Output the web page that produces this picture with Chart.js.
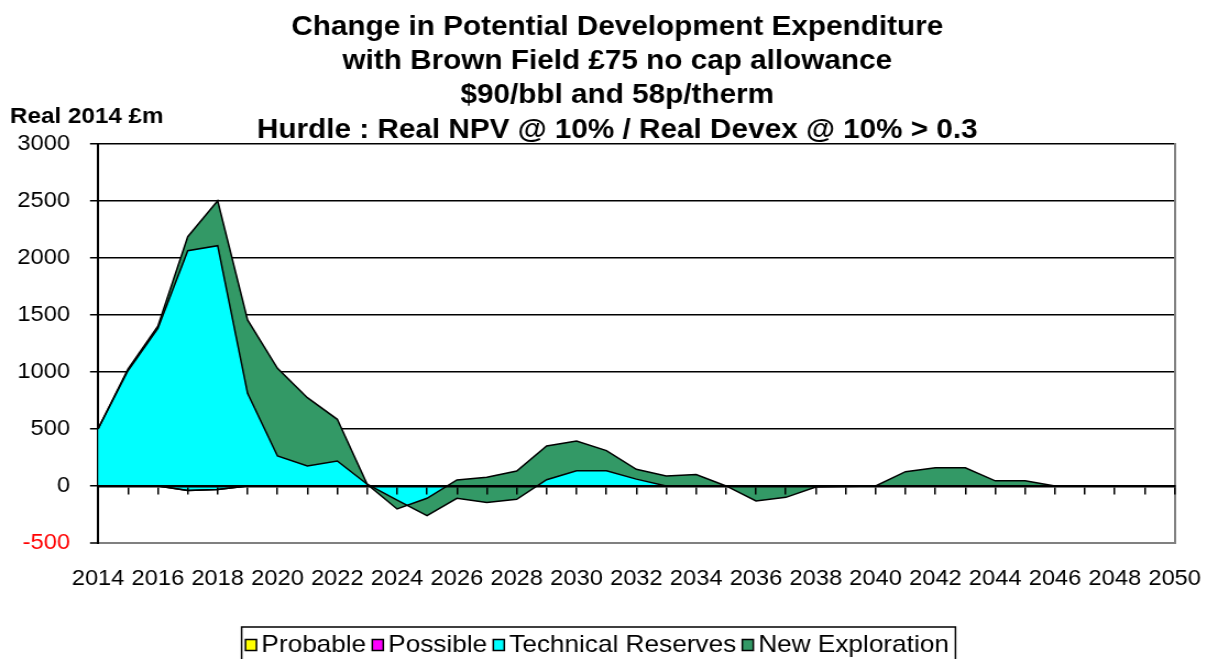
<!DOCTYPE html>
<html><head><meta charset="utf-8">
<script src="https://cdn.jsdelivr.net/npm/chart.js@4.4.0/dist/chart.umd.min.js"></script>
<style>
html,body{margin:0;padding:0;background:#fff;overflow:hidden;}
#c{display:block;width:1218px !important;height:690px !important;}
</style></head><body>
<canvas id="c" width="1107" height="690" style="width:1218px;height:690px;"></canvas>
<script>
// ---- data (Real 2014 £m) ----
const years = ['2014','2015','2016','2017','2018','2019','2020','2021','2022','2023',
  '2024','2025','2026','2027','2028','2029','2030','2031','2032','2033',
  '2034','2035','2036','2037','2038','2039','2040','2041','2042','2043',
  '2044','2045','2046','2047','2048','2049','2050'];
const probable = [0,0,0,-40,-30,0,0,0,0,0, 0,0,0,0,0,0,0,0,0,0, 0,0,0,0,0,0,0,0,0,0, 0,0,0,0,0,0,0];
const possible = [0,0,0,0,0,0,0,0,0,0, 0,0,0,0,0,0,0,0,0,0, 0,0,0,0,0,0,0,0,0,0, 0,0,0,0,0,0,0];
const technicalReserves = [500,1010,1380,2102,2136,812,263,175,219,15,
  -125,-260,-108,-146,-117,55,133,133,60,0,
  0,0,0,0,0,0,0,0,0,0, 0,0,0,0,0,0,0];
const newExploration = [0,15,20,123,394,643,768,599,365,0,
  -77,152,161,222,248,295,261,177,86,88,
  100,0,-131,-100,-10,-5,0,125,160,160,
  45,45,0,0,0,0,0];
const seriesNames = ['Probable','Possible','Technical Reserves','New Exploration'];
const seriesColors = ['#FFFF00','#FF00FF','#00FFFF','#339966'];
const yTickValues = [-500,0,500,1000,1500,2000,2500,3000];
const titleLines = ['Change in Potential Development Expenditure',
  'with Brown Field £75 no cap allowance',
  '$90/bbl and 58p/therm',
  'Hurdle : Real NPV @ 10% / Real Devex @ 10% > 0.3'];
const unitLabel = 'Real 2014 £m';

// cumulative stacking (Excel-style stacked area)
const c1 = probable.slice();
const c2 = c1.map((v,i)=>v+possible[i]);
const c3 = c2.map((v,i)=>v+technicalReserves[i]);
const c4 = c3.map((v,i)=>v+newExploration[i]);

const FAM = "'Liberation Sans', Arial, sans-serif";
Chart.defaults.font.family = FAM;

const extras = {
  id: 'extras',
  afterLayout(chart) {
    const t = chart.titleBlock;
    const tdx = 561 - (t.left + t.right) / 2;
    t.left += tdx; t.right += tdx;
  },
  afterDraw(chart) {
    const ctx = chart.ctx, ca = chart.chartArea;
    ctx.save();
    ctx.fillStyle = '#000';
    ctx.font = 'bold 22px ' + FAM;
    ctx.textAlign = 'left';
    ctx.textBaseline = 'middle';
    ctx.fillText(unitLabel, ca.left - 80, ca.top - 27);

    // legend (framed, Excel style)
    const dsets = chart.data.datasets;
    ctx.font = '23.8px ' + FAM;
    const boxW = 10, boxH = 11, gapBT = 4.5, gapTB = 5.5, padL = 3.5, padR = 6;
    const tws = dsets.map(d => ctx.measureText(d.label).width);
    let total = 0;
    tws.forEach((w, i) => { total += boxW + gapBT + w + (i < tws.length - 1 ? gapTB : 0); });
    const yc = ca.bottom + 102;
    const frameW = total + padL + padR;
    const fx = 544 - frameW / 2;
    ctx.strokeStyle = '#000';
    ctx.lineWidth = 1.5;
    ctx.strokeRect(fx, yc - 18, frameW, 40);
    let x = fx + padL;
    dsets.forEach((d, i) => {
      ctx.fillStyle = d.backgroundColor;
      ctx.fillRect(x, yc - boxH / 2, boxW, boxH);
      ctx.lineWidth = 1.5;
      ctx.strokeStyle = '#000';
      ctx.strokeRect(x, yc - boxH / 2, boxW, boxH);
      ctx.fillStyle = '#000';
      ctx.fillText(d.label, x + boxW + gapBT, yc);
      x += boxW + gapBT + tws[i] + gapTB;
    });
    ctx.restore();
  }
};

const common = {borderColor:'#000', borderWidth:1.5, pointRadius:0, tension:0};
new Chart(document.getElementById('c'), {
  type: 'line',
  data: {
    labels: years,
    datasets: [
      Object.assign({label: seriesNames[0], data: c1, backgroundColor: seriesColors[0], fill:'origin', order:3}, common),
      Object.assign({label: seriesNames[1], data: c2, backgroundColor: seriesColors[1], fill:'-1', order:2}, common),
      Object.assign({label: seriesNames[2], data: c3, backgroundColor: seriesColors[2], fill:'-1', order:1}, common),
      Object.assign({label: seriesNames[3], data: c4, backgroundColor: seriesColors[3], fill:'-1', order:0}, common)
    ]
  },
  options: {
    responsive: false,
    animation: false,
    events: [],
    layout: {padding: {left: 0, right: 32.5, top: 0, bottom: 97}},
    plugins: {
      filler: {drawTime: 'beforeDatasetsDraw'},
      tooltip: {enabled: false},
      legend: {display: false},
      title: {
        display: true, text: titleLines, color: '#000',
        font: {family: FAM, size: 27, weight: 'bold', lineHeight: 34.3/27},
        padding: {top: 10, bottom: -3.5}
      }
    },
    scales: {
      x: {
        type: 'category', position: {y: 0}, offset: false,
        grid: {display: true, drawOnChartArea: false, drawTicks: true, tickLength: 7, color: '#000', lineWidth: 1.5, z: 1},
        border: {display: true, color: '#000', width: 2.5, z: 1},
        ticks: {display: false}
      },
      x2: {
        type: 'category', position: 'bottom', offset: false,
        grid: {display: false}, border: {display: false},
        ticks: {
          autoSkip: false, maxRotation: 0, minRotation: 0, padding: 15.5, color: '#000',
          font: {family: FAM, size: 21.5},
          callback: function(v, i) { return i % 2 === 0 ? this.getLabelForValue(v) : ''; }
        },
        afterFit(s) { s.height = 50; }
      },
      y: {
        type: 'linear', position: 'left', min: yTickValues[0], max: yTickValues[yTickValues.length-1],
        afterBuildTicks(s) { s.ticks = yTickValues.map(v => ({value: v})); },
        ticks: {
          padding: 18.2, font: {family: FAM, size: 21.5},
          callback: (v) => String(v),
          color: (c) => (c.tick && c.tick.value < 0) ? '#FF0000' : '#000'
        },
        grid: {
          color: (c) => (c.tick && c.tick.value === yTickValues[0]) ? '#808080' : '#000',
          lineWidth: (c) => (c.tick && c.tick.value === yTickValues[0]) ? 2 : 1.5,
          tickColor: '#000', tickLength: 7.3, tickWidth: 1.5
        },
        border: {color: '#000', width: 2},
        afterFit(s) { s.width = 89.1; }
      },
      y2: {
        type: 'linear', position: 'right', display: true,
        grid: {display: false}, ticks: {display: false},
        border: {display: true, color: '#808080', width: 2},
        afterFit(s) { s.width = 0; }
      }
    }
  },
  plugins: [extras]
});
</script>
</body></html>
